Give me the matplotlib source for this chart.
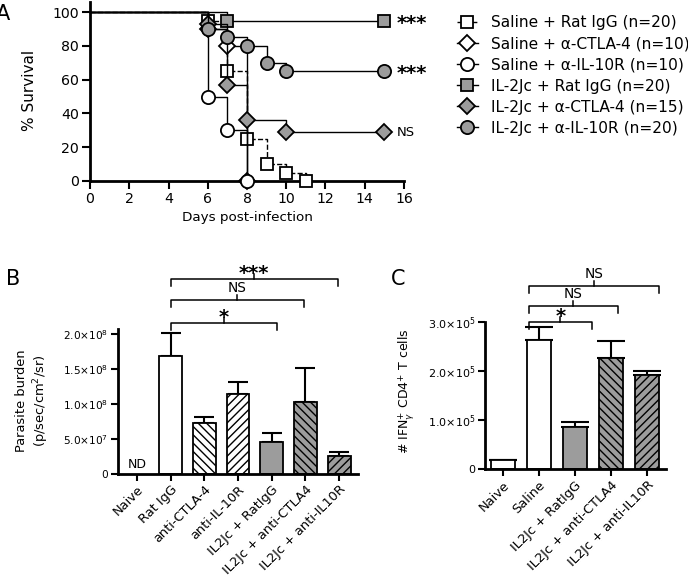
import matplotlib
matplotlib.use('Agg')
import matplotlib.pyplot as plt

plt.rcParams['font.family'] = ['DejaVu Sans']
plt.rcParams['mathtext.fontset'] = 'dejavusans'
plt.rcParams['hatch.linewidth'] = 1.0

# Panel A: Kaplan-Meier survival
grupper = ['Saline + Rat IgG (n=20)', 'Saline + α-CTLA-4 (n=10)', 'Saline + α-IL-10R (n=10)',
           'IL-2Jc + Rat IgG (n=20)', 'IL-2Jc + α-CTLA-4 (n=15)', 'IL-2Jc + α-IL-10R (n=20)']
dager = [[0, 6, 7, 8, 9, 10, 11],
         [0, 6, 7, 8],
         [0, 6, 7, 8],
         [0, 7, 15],
         [0, 6, 7, 8, 10, 15],
         [0, 6, 7, 8, 9, 10, 15]]
overlevelse = [[100, 95, 65, 25, 10, 5, 0],
               [100, 90, 80, 0],
               [100, 50, 30, 0],
               [100, 95, 95],
               [100, 93, 57, 36, 29, 29],
               [100, 90, 85, 80, 70, 65, 65]]
signif_a = {3: '***', 5: '***', 4: 'NS'}

# Panel B: parasite burden
kat_b = ['Naive', 'Rat IgG', 'anti-CTLA-4', 'anti-IL-10R', 'IL2Jc + RatIgG',
         'IL2Jc + anti-CTLA4', 'IL2Jc + anti-IL10R']
verdi_b = [0, 1.68e8, 0.73e8, 1.14e8, 0.45e8, 1.03e8, 0.26e8]
feil_b = [0, 0.33e8, 0.09e8, 0.17e8, 0.13e8, 0.48e8, 0.06e8]

# Panel C: IFNg+ CD4+ T cells
kat_c = ['Naive', 'Saline', 'IL2Jc + RatIgG', 'IL2Jc + anti-CTLA4', 'IL2Jc + anti-IL10R']
verdi_c = [1.8e4, 2.64e5, 0.85e5, 2.26e5, 1.91e5]
feil_c = [0.1e4, 0.25e5, 0.11e5, 0.36e5, 0.10e5]

graa = '#9c9c9c'
W = 688.0
H = 578.0

def rect(l, t, r, b):
    return [l / W, 1 - b / H, (r - l) / W, (b - t) / H]

fig = plt.figure(figsize=(6.88, 5.78), dpi=100)

# ---------------- A ----------------
axA = fig.add_axes(rect(90, 2, 404, 181))
markorer = ['s', 'D', 'o', 's', 'D', 'o']
farger = ['white', 'white', 'white', graa, graa, graa]
stiler = ['--', '-', '-', '-', '-', '-']
storrelse = [8.5, 8.5, 9.5, 8.5, 8.5, 9.5]
linjer = []
for i in range(6):
    l, = axA.plot(dager[i], overlevelse[i], drawstyle='steps-post', ls=stiler[i],
                  color='k', lw=1.0, marker=markorer[i], ms=storrelse[i],
                  mfc=farger[i], mec='k', mew=1.3, markevery=list(range(1, len(dager[i]))),
                  clip_on=False, label=grupper[i], zorder=3 + i)
    linjer.append(l)
for i, s in signif_a.items():
    if s == '***':
        axA.text(15.65, overlevelse[i][-1] - 1.5, s, fontsize=14, fontweight='bold',
                 va='center', ha='left', clip_on=False)
    else:
        axA.text(15.65, overlevelse[i][-1], s, fontsize=9.5, va='center', ha='left',
                 clip_on=False)

axA.set_xlim(0, 16)
axA.set_ylim(0, 106)
axA.set_xticks(range(0, 17, 2))
axA.set_yticks(range(0, 101, 20))
axA.spines['top'].set_visible(False)
axA.spines['right'].set_visible(False)
axA.spines['left'].set_linewidth(2)
axA.spines['bottom'].set_linewidth(2)
axA.spines['bottom'].set_bounds(0, 16)
axA.tick_params(direction='out', length=5.5, width=1.5, labelsize=10.2, pad=2.5)
fig.text(30 / W, 1 - 90 / H, '% Survival', rotation=90, ha='center', va='center', fontsize=11)
fig.text(247 / W, 1 - 217 / H, 'Days post-infection', ha='center', va='center', fontsize=9.7)
fig.legend(handles=linjer, loc='upper left', bbox_to_anchor=(457 / W, 1 - 15 / H),
           frameon=False, borderpad=0, fontsize=11.1, handlelength=1.35, handletextpad=0.85,
           labelspacing=0.4, borderaxespad=0)

# ---------------- B ----------------
axB = fig.add_axes(rect(118, 329, 358, 474))
xb = list(range(len(kat_b)))
farge_b = ['white', 'white', 'white', 'white', graa, graa, graa]
hatch_b = ['', '', '\\\\\\\\', '////', '', '\\\\\\\\', '////']
for i in range(1, len(kat_b)):
    axB.bar(xb[i], verdi_b[i], width=0.68, color=farge_b[i], edgecolor='k', lw=1.3,
            hatch=hatch_b[i], zorder=2)
    axB.errorbar(xb[i], verdi_b[i], yerr=[[0], [feil_b[i]]], fmt='none', ecolor='k',
                 elinewidth=1.5, capsize=7, capthick=1.5, zorder=1)
axB.text(0, 0.04e8, 'ND', ha='center', va='bottom', fontsize=9)
axB.set_xlim(-0.56, 6.56)
axB.set_ylim(0, 2.07e8)
axB.set_yticks([0, 0.5e8, 1.0e8, 1.5e8, 2.0e8])
axB.set_yticklabels(['0', r'5.0×10$^{7}$', r'1.0×10$^{8}$', r'1.5×10$^{8}$', r'2.0×10$^{8}$'])
axB.set_xticks(xb)
axB.set_xticklabels(kat_b, rotation=45, ha='right', rotation_mode='anchor')
axB.spines['top'].set_visible(False)
axB.spines['right'].set_visible(False)
axB.spines['left'].set_linewidth(2)
axB.spines['bottom'].set_linewidth(2)
axB.tick_params(direction='out', length=5, width=1.5)
axB.tick_params(axis='y', labelsize=7.6, pad=2)
axB.tick_params(axis='x', labelsize=9.3, pad=1.5)
fig.text(33 / W, 1 - 401 / H, 'Parasite burden\n(p/sec/cm$^{2}$/sr)', rotation=90,
         ha='center', va='center', fontsize=9.4, linespacing=1.25)


def klamme(ax, x0, x1, y, ned, opp, tekst, fs, dy, fet=False):
    xm = (x0 + x1) / 2
    ax.plot([x0, x0, x1, x1], [y - ned, y, y, y - ned], color='k', lw=1.1, clip_on=False)
    ax.plot([xm, xm], [y, y + opp], color='k', lw=1.1, clip_on=False)
    ax.text(xm, y + opp + dy, tekst, ha='center', va='bottom', fontsize=fs, clip_on=False,
            fontweight='bold' if fet else 'normal')


px_b = 2e8 / 140
klamme(axB, 1.0, 4.15, 151 * px_b, 7 * px_b, 5 * px_b, '*', 14, -9 * px_b, True)
klamme(axB, 1.0, 4.96, 174 * px_b, 7 * px_b, 5 * px_b, 'NS', 9.9, 0)
klamme(axB, 1.0, 5.96, 195 * px_b, 7 * px_b, 5 * px_b, '***', 14, -9 * px_b, True)

# ---------------- C ----------------
axC = fig.add_axes(rect(485, 322, 666, 469))
xc = list(range(len(kat_c)))
farge_c = ['white', 'white', graa, graa, graa]
hatch_c = ['', '', '', '\\\\\\\\', '////']
for i in range(len(kat_c)):
    axC.bar(xc[i], verdi_c[i], width=0.67, color=farge_c[i], edgecolor='k', lw=1.3,
            hatch=hatch_c[i], zorder=2)
    axC.errorbar(xc[i], verdi_c[i], yerr=[[0], [feil_c[i]]], fmt='none', ecolor='k',
                 elinewidth=1.5, capsize=10, capthick=1.5, zorder=1)
axC.set_xlim(-0.49, 4.53)
axC.set_ylim(0, 3.0e5)
axC.set_yticks([0, 1e5, 2e5, 3e5])
axC.set_yticklabels(['0', r'1.0×10$^{5}$', r'2.0×10$^{5}$', r'3.0×10$^{5}$'])
axC.set_xticks(xc)
axC.set_xticklabels(kat_c, rotation=45, ha='right', rotation_mode='anchor')
axC.spines['top'].set_visible(False)
axC.spines['right'].set_visible(False)
axC.spines['left'].set_linewidth(2)
axC.spines['bottom'].set_linewidth(2)
axC.tick_params(direction='out', length=5, width=1.5)
axC.tick_params(axis='y', labelsize=8, pad=2)
axC.tick_params(axis='x', labelsize=9.4, pad=2)
fig.text(407 / W, 1 - 391 / H, r'# IFN$_{γ}^{+}$ CD4$^{+}$ T cells', rotation=90,
         ha='center', va='center', fontsize=9)

px_c = 1e5 / 48.8
klamme(axC, 0.73, 2.47, 146 * px_c, 7 * px_c, 5 * px_c, '*', 14, -9 * px_c, True)
klamme(axC, 0.73, 3.19, 162 * px_c, 7 * px_c, 5 * px_c, 'NS', 9.9, 0)
klamme(axC, 0.73, 4.33, 182 * px_c, 7 * px_c, 5 * px_c, 'NS', 9.9, 0)

# panel letters
fig.text(-4 / W, 1 - 14 / H, 'A', fontsize=15, ha='left', va='center')
fig.text(6 / W, 1 - 279 / H, 'B', fontsize=15, ha='left', va='center')
fig.text(391 / W, 1 - 279 / H, 'C', fontsize=15, ha='left', va='center')

fig.savefig('out.png', dpi=100)
